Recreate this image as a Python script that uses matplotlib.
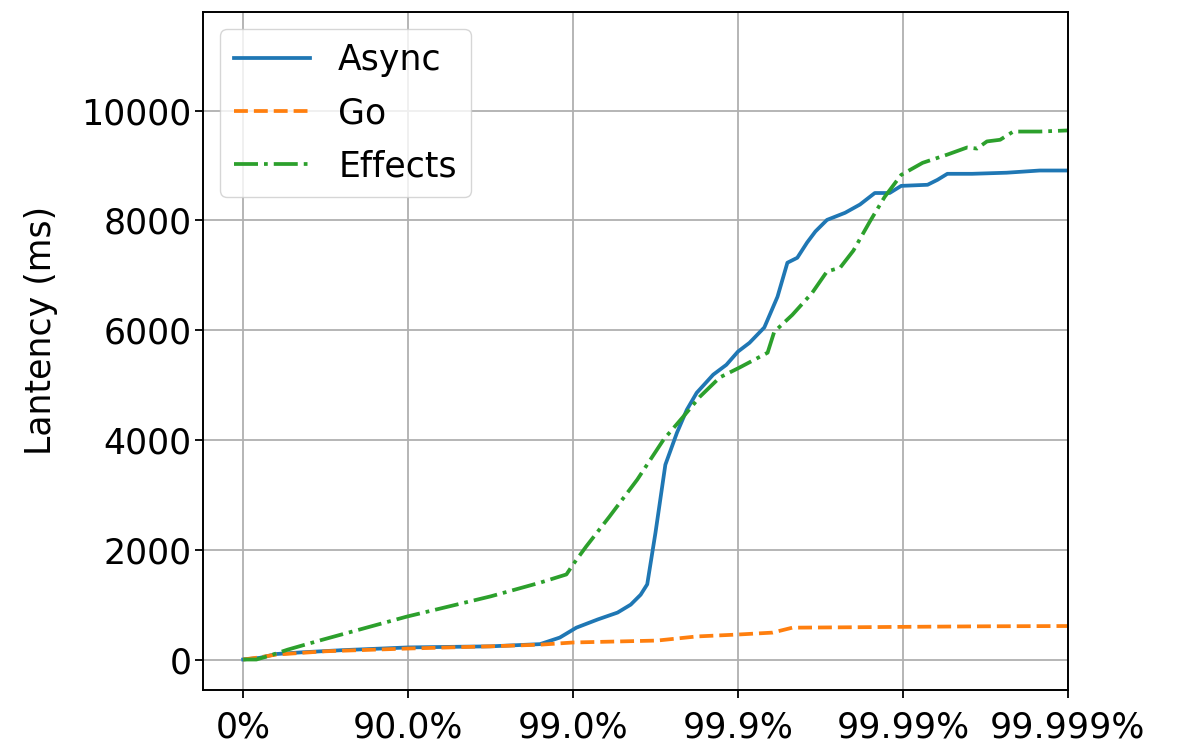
import matplotlib as mpl
mpl.use('Agg')
import matplotlib.pyplot as plt

# x is in "nines": 0 -> 0%, 1 -> 90%, 2 -> 99%, ... 5 -> 99.999%
tick_pos = [0, 1, 2, 3, 4, 5]
tick_labels = ['0%', '90.0%', '99.0%', '99.9%', '99.99%', '99.999%']

async_x = [0, 0.1, 0.2, 0.35, 0.6, 1.0, 1.5, 1.8, 1.92, 2.02, 2.15, 2.27, 2.35,
           2.41, 2.45, 2.50, 2.56, 2.63, 2.69, 2.75, 2.85, 2.93, 3.0, 3.07,
           3.16, 3.24, 3.30, 3.36, 3.42, 3.47, 3.54, 3.65, 3.74, 3.83, 3.92,
           3.99, 4.15, 4.21, 4.27, 4.42, 4.63, 4.83, 5.0]
async_y = [0, 30, 100, 130, 170, 220, 240, 280, 400, 580, 730, 855, 1000,
           1180, 1370, 2310, 3550, 4130, 4550, 4860, 5190, 5370, 5610, 5770,
           6050, 6610, 7230, 7320, 7600, 7800, 8010, 8140, 8290, 8500, 8500,
           8630, 8650, 8740, 8850, 8850, 8870, 8910, 8910]

go_x = [0, 0.1, 0.2, 0.5, 1.0, 1.5, 1.8, 2.0, 2.51, 2.75, 3.0, 3.21, 3.33,
        3.8, 4.0, 4.5, 5.0]
go_y = [0, 40, 90, 150, 200, 240, 270, 310, 345, 420, 455, 490, 580,
        590, 595, 605, 610]

eff_x = [0, 0.08, 0.16, 0.27, 0.48, 0.99, 1.5, 1.8, 1.96, 2.0, 2.08, 2.22,
         2.39, 2.55, 2.67, 2.77, 2.89, 3.01, 3.18, 3.22, 3.33, 3.45, 3.54,
         3.62, 3.70, 3.80, 3.89, 3.99, 4.12, 4.27, 4.39, 4.45, 4.51, 4.59,
         4.67, 4.83, 5.0]
eff_y = [0, 0, 70, 180, 360, 780, 1150, 1400, 1550, 1730, 2060, 2600,
         3280, 4010, 4430, 4790, 5140, 5320, 5590, 5970, 6280, 6680, 7070,
         7140, 7450, 7980, 8430, 8830, 9050, 9200, 9330, 9310, 9440, 9470,
         9620, 9620, 9640]

plt.rcParams['font.size'] = 25
fig = plt.figure(figsize=(11.93, 7.44), dpi=100)
ax = fig.add_axes([0.170, 0.073, 0.725, 0.911])

ax.plot(async_x, async_y, '-', color='#1f77b4', lw=2.7, label='Async')
ax.plot(go_x, go_y, '--', color='#ff7f0e', lw=2.7, label='Go')
ax.plot(eff_x, eff_y, '-.', color='#2ca02c', lw=2.7, label='Effects')

ax.set_xticks(tick_pos)
ax.set_xticklabels(tick_labels)
ax.set_yticks(range(0, 10001, 2000))
ax.set_xlim(-0.245, 5)
ax.set_ylim(-550, 11800)
ax.set_ylabel('Lantency (ms)')
ax.yaxis.set_label_coords(-0.168, 0.53)
ax.grid(True, color='#b0b0b0', lw=1.3)
ax.tick_params(length=6, width=1.3)
ax.tick_params(axis='x', pad=9)
ax.tick_params(axis='y', pad=2)
for s in ax.spines.values():
    s.set_linewidth(1.4)
ax.legend(loc='upper left', handlelength=2.2, labelspacing=0.55,
          borderaxespad=0.5)

fig.savefig('out.png', dpi=100)
plt.close('all')
